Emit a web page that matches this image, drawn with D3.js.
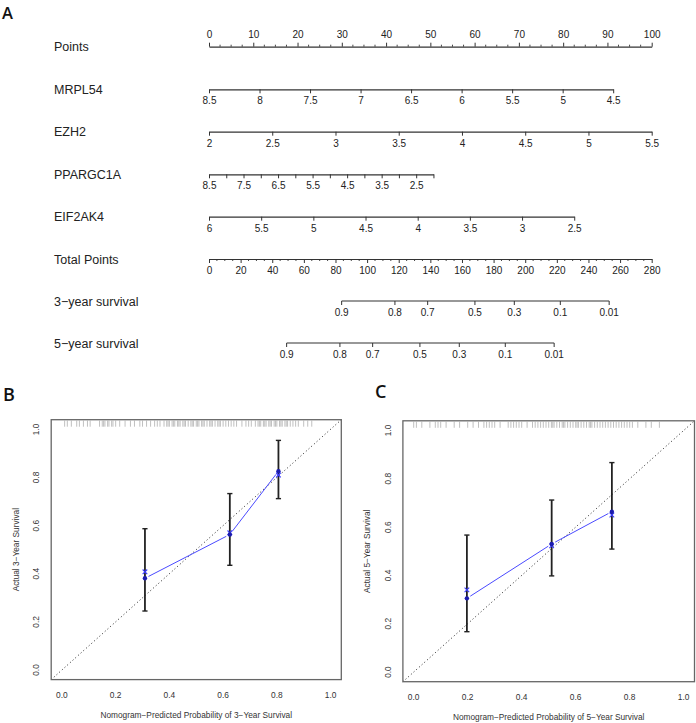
<!DOCTYPE html>
<html><head><meta charset="utf-8">
<script src="https://cdn.jsdelivr.net/npm/d3@7"></script>
<style>body{margin:0;background:#fff} svg{display:block}</style>
</head><body>
<svg id="c" width="696" height="723"></svg>
<script>
// ---------------- DATA ----------------
const pointsTicks = [0,10,20,30,40,50,60,70,80,90,100];
const pointsMinorStep = 2.5;
const mrpl54Ticks = [8.5,8,7.5,7,6.5,6,5.5,5,4.5];
const mrpl54Labels = [8.5,8,7.5,7,6.5,6,5.5,5,4.5];
const mrpl54Pts = [0, 91.3];
const ezh2Ticks = [2,2.5,3,3.5,4,4.5,5,5.5];
const ezh2Labels = [2,2.5,3,3.5,4,4.5,5,5.5];
const ezh2Pts = [0, 100];
const ppargc1aTicks = [8.5,8,7.5,7,6.5,6,5.5,5,4.5,4,3.5,3,2.5,2];
const ppargc1aLabels = [8.5,7.5,6.5,5.5,4.5,3.5,2.5];
const ppargc1aPts = [0, 50.7];
const eif2ak4Ticks = [6,5.5,5,4.5,4,3.5,3,2.5];
const eif2ak4Labels = [6,5.5,5,4.5,4,3.5,3,2.5];
const eif2ak4Pts = [0, 82.5];
const totalTicks = [0,20,40,60,80,100,120,140,160,180,200,220,240,260,280];
const totalMinorStep = 5;
const survLabels = ["0.9","0.8","0.7","0.5","0.3","0.1","0.01"];
const surv3Total = [83.9,117.6,138.3,168.2,193.1,222.2,253.1];
const surv5Total = [49.1,82.8,103.5,133.4,158.3,187.4,218.3];

const calTicks = [0,0.2,0.4,0.6,0.8,1.0];
const cal3Pred = [0.309,0.625,0.806];
const cal3Obs = [0.381,0.563,0.826];
const cal3Corr = [0.408,0.570,0.810];
const cal3Lower = [0.245,0.435,0.712];
const cal3Upper = [0.587,0.733,0.954];
const cal5Pred = [0.197,0.511,0.734];
const cal5Obs = [0.305,0.530,0.664];
const cal5Corr = [0.340,0.522,0.650];
const cal5Lower = [0.167,0.398,0.509];
const cal5Upper = [0.567,0.712,0.867];
const rug3 = [0.01,0.02,0.035,0.055,0.065,0.08,0.095,0.105,0.14,0.15,0.155,0.16,0.17,0.175,0.185,0.19,0.2,0.215,0.235,0.255,0.27,0.29,0.3,0.315,0.33,0.345,0.355,0.365,0.38,0.39,0.395,0.40,0.41,0.415,0.42,0.43,0.435,0.44,0.45,0.455,0.46,0.47,0.48,0.485,0.49,0.5,0.505,0.51,0.52,0.525,0.53,0.54,0.55,0.555,0.56,0.57,0.58,0.585,0.59,0.6,0.61,0.62,0.63,0.64,0.65,0.67,0.685,0.695,0.705,0.72,0.73,0.735,0.74,0.75,0.755,0.76,0.77,0.775,0.78,0.79,0.795,0.8,0.81,0.815,0.82,0.83,0.835,0.84,0.85,0.86,0.87,0.88,0.9,0.915,0.93];
const rug5 = [0.0,0.01,0.03,0.06,0.08,0.09,0.10,0.12,0.15,0.17,0.2,0.22,0.24,0.26,0.27,0.28,0.29,0.3,0.32,0.35,0.36,0.37,0.38,0.39,0.4,0.42,0.44,0.45,0.46,0.47,0.48,0.49,0.5,0.51,0.515,0.52,0.53,0.54,0.55,0.555,0.56,0.57,0.58,0.59,0.6,0.605,0.61,0.62,0.63,0.64,0.65,0.655,0.66,0.67,0.68,0.69,0.7,0.71,0.72,0.73,0.74,0.75,0.76,0.77,0.78,0.79,0.8,0.81,0.83,0.86,0.88,0.91];

// ---------------- DRAW ----------------
const svg = d3.select("#c");
const FONT = "'Liberation Sans', Arial, sans-serif";
const LINE = "#333";

// panel letters
[["A",2,19,16.5],["B",3,401,18],["C",375,398,18]].forEach(([t,x,y,fs]) => {
  svg.append("text").attr("x",x).attr("y",y).text(t)
    .attr("font-family","'Open Sans', sans-serif").attr("font-weight",600)
    .attr("font-size",fs).attr("fill","#111");
});

const pts = d3.scaleLinear().domain([0,100]).range([209,651.7]);
const tot = d3.scaleLinear().domain([0,280]).range([209,651.7]);
const rowY = {Points:46.7, MRPL54:89.3, EZH2:131.7, PPARGC1A:174.3, EIF2AK4:216.7, Total:259, S3:301, S5:343};
const labelX = 54;

function rowLabel(t, y) {
  svg.append("text").attr("x",labelX).attr("y",y).attr("dy","0.36em").text(t)
    .attr("font-family",FONT).attr("font-size",12.5).attr("fill","#222");
}
function fmt(v){ return String(v); }

function drawAxis(scale, y, ticks, labels, orient, minorTicks) {
  const g = svg.append("g").attr("transform",`translate(0,${y})`);
  const ax = (orient==="top" ? d3.axisTop(scale) : d3.axisBottom(scale))
    .tickValues(ticks).tickSize(4).tickSizeOuter(0)
    .tickFormat(d => labels.includes(d) ? fmt(d) : "");
  g.call(ax);
  g.select(".domain").attr("stroke",LINE).attr("stroke-width",1.2);
  g.selectAll(".tick line").attr("stroke",LINE).attr("stroke-width",1);
  g.selectAll(".tick text").attr("font-family",FONT).attr("font-size",10).attr("fill","#222")
    .attr("y", orient==="top" ? -9 : 8);
  if (minorTicks) {
    g.selectAll(".minor").data(minorTicks).enter().append("line")
      .attr("x1",d=>scale(d)).attr("x2",d=>scale(d))
      .attr("y1",0).attr("y2",orient==="top"?-2:2)
      .attr("stroke",LINE).attr("stroke-width",0.9);
  }
  return g;
}

rowLabel("Points", rowY.Points);
const ptsMinor = d3.range(0,100.01,pointsMinorStep).filter(v => !pointsTicks.includes(v));
drawAxis(pts, rowY.Points, pointsTicks, pointsTicks, "top", ptsMinor);

function varAxis(name, ticks, labels, ptsEnd, y) {
  rowLabel(name, y);
  const s = d3.scaleLinear().domain([ticks[0], ticks[ticks.length-1]])
    .range([pts(ptsEnd[0]), pts(ptsEnd[1])]);
  drawAxis(s, y, ticks, labels, "bottom");
}
varAxis("MRPL54", mrpl54Ticks, mrpl54Labels, mrpl54Pts, rowY.MRPL54);
varAxis("EZH2", ezh2Ticks, ezh2Labels, ezh2Pts, rowY.EZH2);
varAxis("PPARGC1A", ppargc1aTicks, ppargc1aLabels, ppargc1aPts, rowY.PPARGC1A);
varAxis("EIF2AK4", eif2ak4Ticks, eif2ak4Labels, eif2ak4Pts, rowY.EIF2AK4);

rowLabel("Total Points", rowY.Total);
const totMinor = d3.range(0,280.01,totalMinorStep).filter(v => !totalTicks.includes(v));
drawAxis(tot, rowY.Total, totalTicks, totalTicks, "bottom", totMinor);

function survAxis(name, totals, y) {
  rowLabel(name, y);
  const idx = totals.map((_,i)=>i);
  const s = d3.scaleOrdinal().domain(idx).range(totals.map(t => tot(t)));
  const g = svg.append("g").attr("transform",`translate(0,${y})`);
  g.append("line").attr("x1",tot(totals[0])).attr("x2",tot(totals[totals.length-1]))
    .attr("y1",0).attr("y2",0).attr("stroke",LINE).attr("stroke-width",1.2);
  g.selectAll(".t").data(idx).enter().append("line")
    .attr("x1",i=>s(i)).attr("x2",i=>s(i)).attr("y1",0).attr("y2",4)
    .attr("stroke",LINE).attr("stroke-width",1);
  g.selectAll(".l").data(idx).enter().append("text")
    .attr("x",i=>s(i)).attr("y",8).attr("dy","0.71em").attr("text-anchor","middle")
    .text(i=>survLabels[i]).attr("font-family",FONT).attr("font-size",10).attr("fill","#222");
}
survAxis("3\u2212year survival", surv3Total, rowY.S3);
survAxis("5\u2212year survival", surv5Total, rowY.S5);

function calPanel(box, pred, obs, corr, lower, upper, rug, yrs) {
  const x = d3.scaleLinear().domain([-0.04,1.04]).range([box.l, box.r]);
  const y = d3.scaleLinear().domain([-0.04,1.04]).range([box.b, box.t]);
  const g = svg.append("g");
  g.selectAll(".rug").data(rug).enter().append("line")
    .attr("x1",d=>x(d)).attr("x2",d=>x(d)).attr("y1",box.t+1).attr("y2",box.t+7)
    .attr("stroke","#b0b0b0").attr("stroke-width",0.8);
  g.append("line").attr("x1",x(-0.04)).attr("y1",y(-0.04)).attr("x2",x(1.04)).attr("y2",y(1.04))
    .attr("stroke","#222").attr("stroke-width",1).attr("stroke-dasharray","1,2.6");
  g.append("rect").attr("x",box.l).attr("y",box.t).attr("width",box.r-box.l).attr("height",box.b-box.t)
    .attr("fill","none").attr("stroke","#666").attr("stroke-width",1.3);
  g.selectAll(".xl").data(calTicks).enter().append("text")
    .attr("x",d=>x(d)).attr("y",box.b+15).attr("dy","0.35em").attr("text-anchor","middle")
    .text(d=>d.toFixed(1)).attr("font-family",FONT).attr("font-size",8.4).attr("fill","#333");
  g.selectAll(".yl").data(calTicks).enter().append("text")
    .attr("transform",d=>`translate(${box.l-15},${y(d)}) rotate(-90)`)
    .attr("dy","0.35em").attr("text-anchor","middle")
    .text(d=>d.toFixed(1)).attr("font-family",FONT).attr("font-size",8.4).attr("fill","#333");
  g.append("text").attr("x",(box.l+box.r)/2).attr("y",box.b+35.5).attr("dy","0.35em")
    .attr("text-anchor","middle").text(`Nomogram\u2212Predicted Probability of ${yrs}\u2212Year Survival`)
    .attr("font-family",FONT).attr("font-size",8.3).attr("fill","#333");
  g.append("text").attr("transform",`translate(${box.l-35.5},${(box.t+box.b)/2}) rotate(-90)`)
    .attr("dy","0.35em").attr("text-anchor","middle").text(`Actual ${yrs}\u2212Year Survival`)
    .attr("font-family",FONT).attr("font-size",8.3).attr("fill","#333");
  const idx = pred.map((_,i)=>i);
  g.selectAll(".eb").data(idx).enter().append("line")
    .attr("x1",i=>x(pred[i])).attr("x2",i=>x(pred[i])).attr("y1",i=>y(lower[i])).attr("y2",i=>y(upper[i]))
    .attr("stroke","#222").attr("stroke-width",1.8);
  [lower, upper].forEach(arr => {
    g.selectAll(null).data(idx).enter().append("line")
      .attr("x1",i=>x(pred[i])-2.6).attr("x2",i=>x(pred[i])+2.6).attr("y1",i=>y(arr[i])).attr("y2",i=>y(arr[i]))
      .attr("stroke","#222").attr("stroke-width",1.4);
  });
  for (let i=0;i<pred.length-1;i++){
    const x1=x(pred[i]), y1=y(obs[i]), x2=x(pred[i+1]), y2=y(obs[i+1]);
    const L=Math.hypot(x2-x1,y2-y1), gap=4;
    const ux=(x2-x1)/L, uy=(y2-y1)/L;
    g.append("line").attr("x1",x1+ux*gap).attr("y1",y1+uy*gap).attr("x2",x2-ux*gap).attr("y2",y2-uy*gap)
      .attr("stroke","#4a4aff").attr("stroke-width",1);
  }
  g.selectAll(".xm").data(idx).enter().append("path")
    .attr("d",i=>{const cx=x(pred[i]), cy=y(corr[i]), r=2.3;
      return `M${cx-r},${cy-r}L${cx+r},${cy+r}M${cx-r},${cy+r}L${cx+r},${cy-r}`;})
    .attr("stroke","#3a3aff").attr("stroke-width",1.1).attr("fill","none");
  g.selectAll(".dt").data(idx).enter().append("circle")
    .attr("cx",i=>x(pred[i])).attr("cy",i=>y(obs[i])).attr("r",2.2).attr("fill","#1c1cb0");
}

calPanel({l:51.2, r:341.3, t:419.7, b:679.6}, cal3Pred, cal3Obs, cal3Corr, cal3Lower, cal3Upper, rug3, 3);
calPanel({l:402.9, r:694.5, t:420.8, b:681.7}, cal5Pred, cal5Obs, cal5Corr, cal5Lower, cal5Upper, rug5, 5);
</script>
</body></html>
